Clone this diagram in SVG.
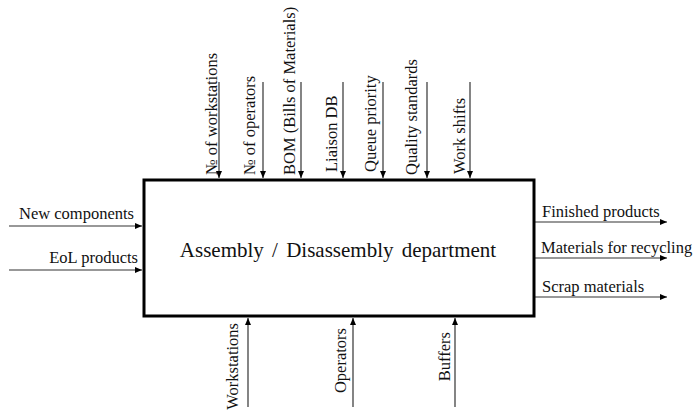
<svg xmlns="http://www.w3.org/2000/svg" width="696" height="414" viewBox="0 0 696 414">
<defs>
<marker id="ah" markerWidth="7" markerHeight="6" refX="7" refY="3" orient="auto" markerUnits="userSpaceOnUse">
<path d="M0,0 L7,3 L0,6 Z" fill="#000"/>
</marker>
<style>
.t{font-family:"Liberation Serif","Times New Roman",serif;font-size:16.5px;fill:#111}
.c{stroke:#333;stroke-width:1.2;fill:none;marker-end:url(#ah)}
</style>
</defs>
<rect width="696" height="414" fill="#fff"/>
<g id="connectors">
<line class="c" x1="219" y1="82" x2="219" y2="178"/>
<line class="c" x1="263" y1="82" x2="263" y2="178"/>
<line class="c" x1="301" y1="82" x2="301" y2="178"/>
<line class="c" x1="343" y1="82" x2="343" y2="178"/>
<line class="c" x1="383" y1="82" x2="383" y2="178"/>
<line class="c" x1="427" y1="82" x2="427" y2="178"/>
<line class="c" x1="470" y1="82" x2="470" y2="178"/>
<line class="c" x1="9" y1="226" x2="142" y2="226"/>
<line class="c" x1="9" y1="270" x2="142" y2="270"/>
<line class="c" x1="535" y1="222" x2="667" y2="222"/>
<line class="c" x1="535" y1="258" x2="667" y2="258"/>
<line class="c" x1="535" y1="297" x2="667" y2="297"/>
<line class="c" x1="248" y1="407" x2="248" y2="318"/>
<line class="c" x1="353" y1="407" x2="353" y2="318"/>
<line class="c" x1="455" y1="407" x2="455" y2="318"/>
</g>
<g id="department">
<rect x="144" y="180" width="390" height="136" fill="#fff" stroke="#000" stroke-width="3"/>
<text x="338" y="257" text-anchor="middle" style="font-family:'Liberation Serif','Times New Roman',serif;font-size:21px;fill:#111;word-spacing:3px">Assembly / Disassembly  department</text>
</g>
<g id="top-labels">
<text class="t" transform="translate(217,175) rotate(-90)">№ of workstations</text>
<text class="t" transform="translate(255,175) rotate(-90)">№ of operators</text>
<text class="t" transform="translate(295,175) rotate(-90)">BOM (Bills of Materials)</text>
<text class="t" transform="translate(337,172) rotate(-90)">Liaison DB</text>
<text class="t" transform="translate(376,172) rotate(-90)">Queue priority</text>
<text class="t" transform="translate(417,175) rotate(-90)">Quality standards</text>
<text class="t" transform="translate(465,174) rotate(-90)">Work shifts</text>
</g>
<g id="left-labels">
<text class="t" x="134" y="219" text-anchor="end">New components</text>
<text class="t" x="138" y="263" text-anchor="end">EoL products</text>
</g>
<g id="right-labels">
<text class="t" x="542" y="217">Finished products</text>
<text class="t" x="541" y="253">Materials for recycling</text>
<text class="t" x="542" y="292">Scrap materials</text>
</g>
<g id="bottom-labels">
<text class="t" transform="translate(238,323) rotate(-90)" text-anchor="end">Workstations</text>
<text class="t" transform="translate(346,328) rotate(-90)" text-anchor="end">Operators</text>
<text class="t" transform="translate(450,332) rotate(-90)" text-anchor="end">Buffers</text>
</g>
</svg>
